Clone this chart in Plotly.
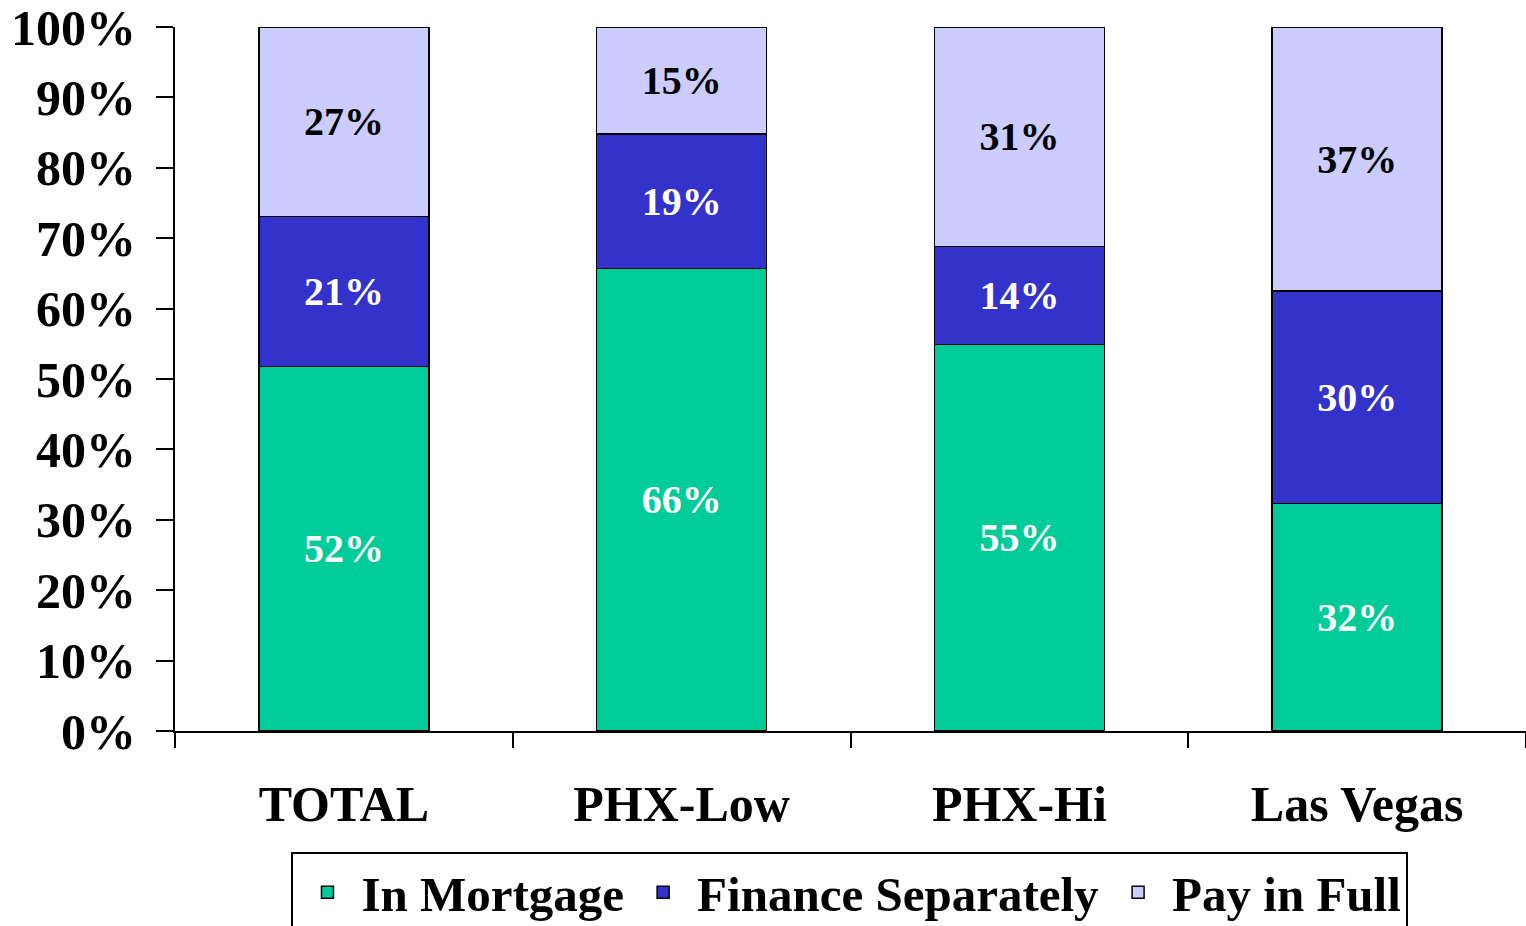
import plotly.graph_objects as go

categories = ["TOTAL", "PHX-Low", "PHX-Hi", "Las Vegas"]
series_names = ["In Mortgage", "Finance Separately", "Pay in Full"]
in_mortgage = [51.8, 65.7, 54.9, 32.3]
finance_separately = [21.3, 19.1, 13.9, 30.2]
pay_in_full = [26.9, 15.2, 31.2, 37.5]
labels_mortgage = ["52%", "66%", "55%", "32%"]
labels_finance = ["21%", "19%", "14%", "30%"]
labels_full = ["27%", "15%", "31%", "37%"]
y_ticks = [0, 10, 20, 30, 40, 50, 60, 70, 80, 90, 100]
y_ticklabels = [f"{v}%" for v in y_ticks]

colors = ["#00CC99", "#3333CC", "#CCCCFF"]
text_colors = ["white", "white", "black"]
FONT = "Liberation Serif, Times New Roman, serif"

fig = go.Figure()
for name, vals, labs, col, tcol in zip(
    series_names,
    [in_mortgage, finance_separately, pay_in_full],
    [labels_mortgage, labels_finance, labels_full],
    colors, text_colors,
):
    fig.add_trace(go.Bar(
        x=categories, y=vals, name=name, text=labs,
        texttemplate="%{text}",
        textposition="inside", insidetextanchor="middle", textangle=0,
        constraintext="none",
        textfont=dict(family=FONT, size=40, color=tcol, weight="bold"),
        marker=dict(color=col, line=dict(color="black", width=1.5)),
        hoverinfo="skip",
    ))

fig.update_layout(
    barmode="stack",
    bargap=0.497,
    width=1526, height=926,
    margin=dict(l=175, r=0, t=27, b=195, autoexpand=False),
    plot_bgcolor="white", paper_bgcolor="white",
    font=dict(family=FONT, size=50, color="black", weight="bold"),
    showlegend=True,
    legend=dict(
        orientation="h", xref="container", yref="container",
        x=0.557, xanchor="center", y=0.080, yanchor="top",
        bordercolor="black", borderwidth=2, bgcolor="white",
        font=dict(family=FONT, size=49, color="black", weight="bold"),
        traceorder="normal", itemwidth=58,
    ),
)
fig.update_xaxes(
    showline=True, linecolor="black", linewidth=2,
    ticks="outside", ticklen=15, tickwidth=2, tickcolor="black",
    tickson="boundaries", ticklabelstandoff=28, automargin=False,
    showgrid=False, ticklabeloverflow="allow",
    tickfont=dict(family=FONT, size=50, color="black", weight="bold"),
)
fig.update_yaxes(
    range=[0, 100.0001], tickvals=y_ticks, ticktext=y_ticklabels,
    showline=True, linecolor="black", linewidth=2,
    ticks="outside", ticklen=17, tickwidth=2, tickcolor="black",
    showgrid=False, zeroline=False, ticklabelstandoff=10, automargin=False,
    ticklabeloverflow="allow",
    tickfont=dict(family=FONT, size=50, color="black", weight="bold"),
)

fig.write_html(
    "out.html",
    config={"displayModeBar": False},
    post_script="document.body.style.margin='0';document.body.style.overflow='hidden';",
)
